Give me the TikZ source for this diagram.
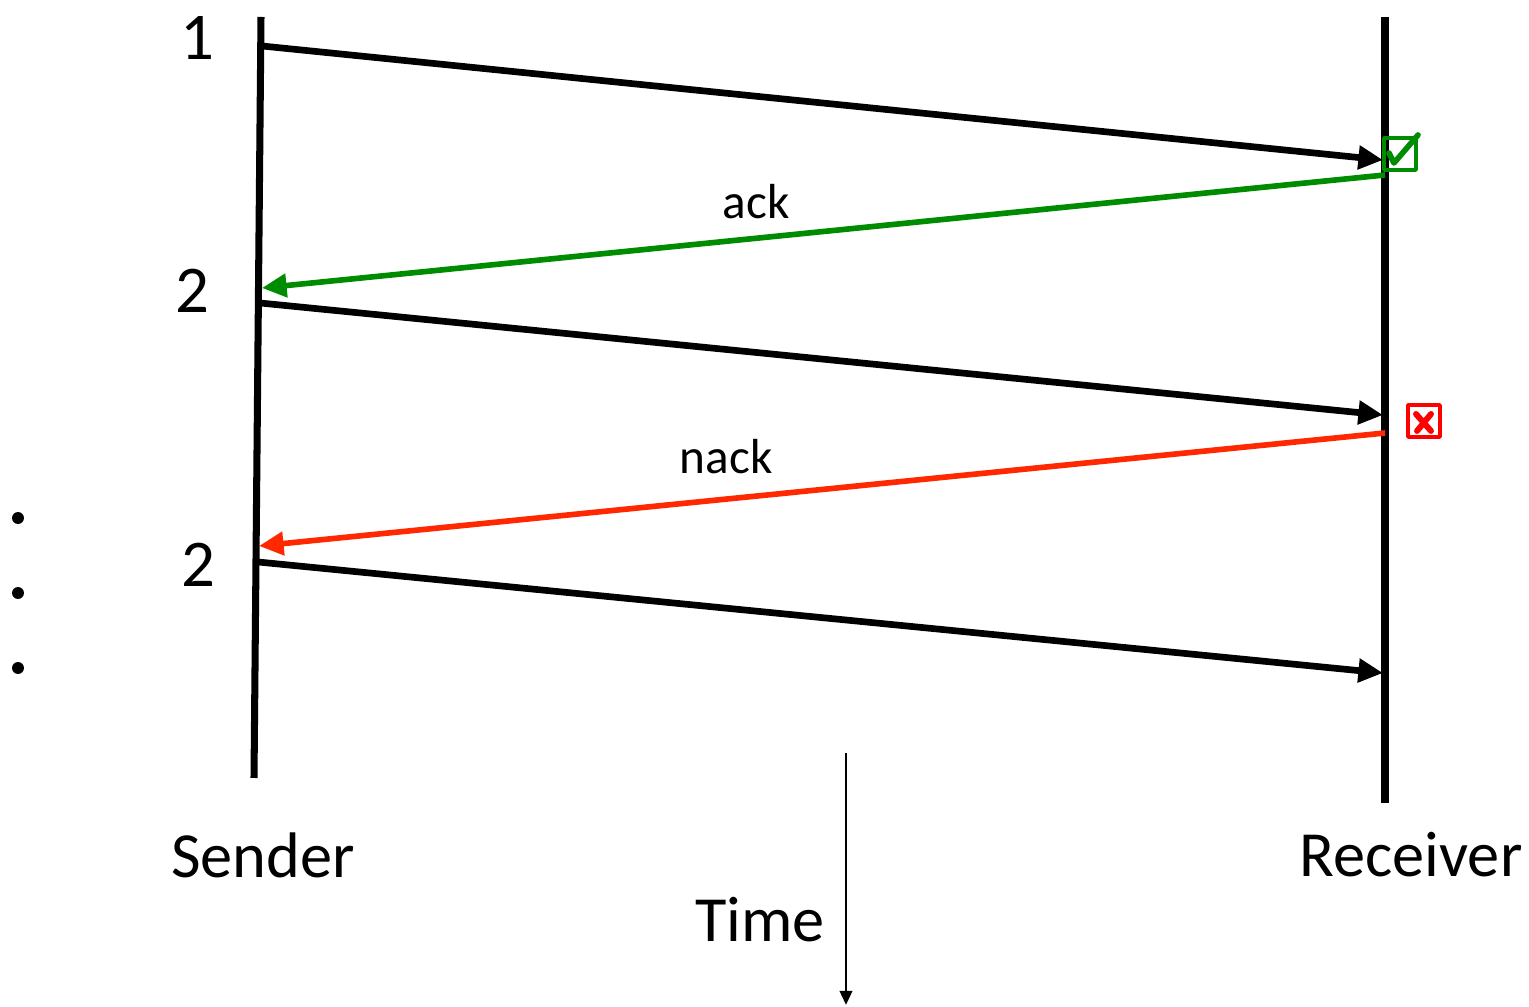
\documentclass[tikz,border=0pt]{standalone}
\usepackage{fontspec}
\setmainfont{Carlito}
\usetikzlibrary{arrows.meta}
\definecolor{ackgreen}{RGB}{0,140,0}
\definecolor{nackred}{RGB}{255,40,0}
\begin{document}
\begin{tikzpicture}[x=0.01cm, y=-0.01cm, line join=round, >={Triangle[length=7pt,width=6.5pt]},
	life/.style={line width=2pt},
	msg/.style={line width=1.9pt, ->},
	ackmsg/.style={msg, ackgreen, line width=1.6pt},
	nackmsg/.style={msg, nackred, line width=1.6pt},
	big/.style={font=\fontsize{18.3}{22}\selectfont},
	num/.style={font=\fontsize{19}{23}\selectfont},
	small/.style={font=\fontsize{14}{17}\selectfont}]
	\useasboundingbox (0,0) rectangle (1529,1007);
	% lifelines
	\coordinate (sTop) at (261,17); \coordinate (sBot) at (254,778);
	\coordinate (rTop) at (1385,17); \coordinate (rBot) at (1385,803);
	\draw[life] (sTop)--(sBot);
	\draw[life] (rTop)--(rBot);
	% message ends
	\coordinate (s1) at (262,46);  \coordinate (r1) at (1383,160);
	\coordinate (r2) at (1385,175); \coordinate (s2) at (262,288);
	\coordinate (s3) at (260,303); \coordinate (r3) at (1383,415);
	\coordinate (r4) at (1385,433); \coordinate (s4) at (259,546);
	\coordinate (s5) at (258,562); \coordinate (r5) at (1383,673);
	\draw[msg] (s1)--(r1);
	\draw[ackmsg] (r2)--(s2) node (ack) [small, pos=0.56, above=1.5pt, black] {ack};
	\draw[msg] (s3)--(r3);
	\draw[nackmsg] (r4)--(s4) node (nack) [small, pos=0.585, above=3pt, black] {nack};
	\draw[msg] (s5)--(r5);
	% packet numbers
	\node (n1) [num] at (197,38) {1};
	\node (n2) [num] at (192,291) {2};
	\node (n3) [num] at (198,565) {2};
	% marks at the receiver
	\draw[ackgreen, line width=1pt] (1384,138) rectangle (1416,170);
	\draw[ackgreen, line width=1.6pt, line cap=round] (1389,153)--(1394,163)--(1418,135);
	\draw[red, line width=1pt] (1408,405) rectangle (1440,437);
	\draw[red, line width=1.7pt, line cap=round] (1416,414)--(1431,431) (1431,414)--(1417,431);
	% dots
	\fill (18,518) circle (1.7pt) (18,593) circle (1.7pt) (18,668) circle (1.7pt);
	% labels and time axis
	\node (sender) [big] at (263,855) {Sender};
	\node (receiver) [big] at (1411,855) {Receiver};
	\node (time) [big] at (760,920) {Time};
	\coordinate (tTop) at (846,753); \coordinate (tBot) at (846,1005);
	\draw[line width=0.8pt, -{Triangle[length=4pt,width=3.5pt]}] (tTop)--(tBot);
\end{tikzpicture}
\end{document}
